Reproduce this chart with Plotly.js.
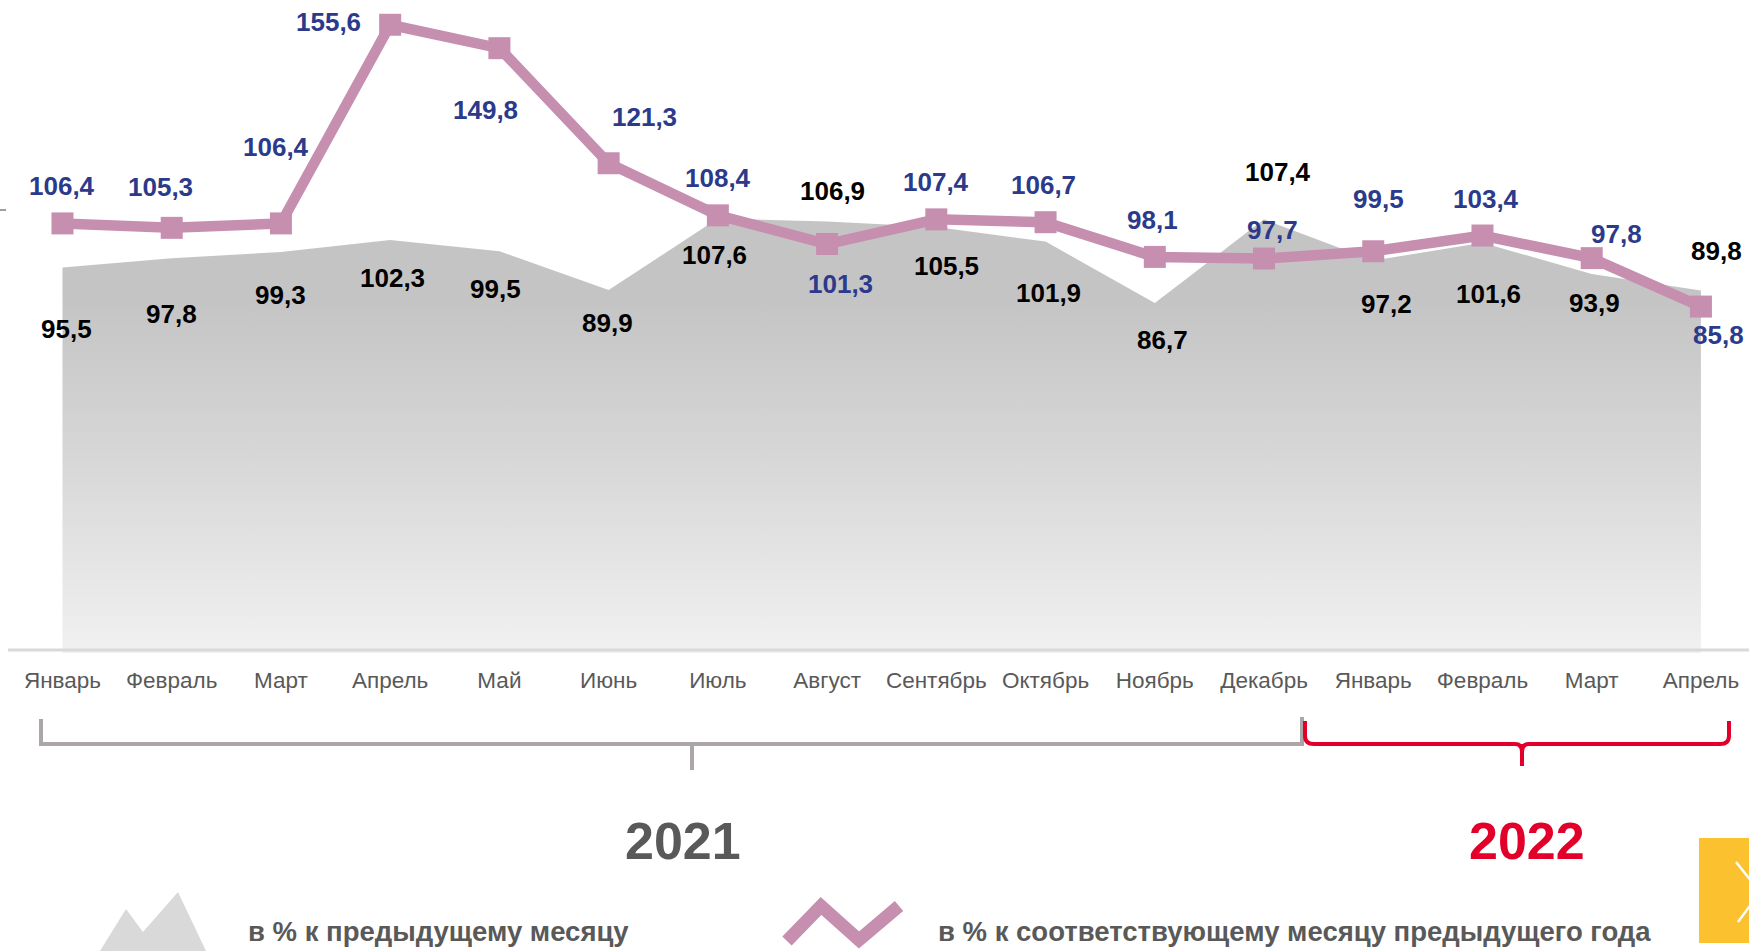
<!DOCTYPE html>
<html>
<head>
<meta charset="utf-8">
<script src="https://cdn.plot.ly/plotly-3.0.1.min.js"></script>
<style>html,body{margin:0;padding:0;background:#fff;}#chart{width:1749px;height:951px;}</style>
</head>
<body>
<div id="chart"></div>
<script>
// ---- data ----
const months = ['Январь','Февраль','Март','Апрель','Май','Июнь','Июль','Август','Сентябрь','Октябрь','Ноябрь','Декабрь','Январь','Февраль','Март','Апрель'];
const momValues = [95.5,97.8,99.3,102.3,99.5,89.9,107.6,106.9,105.5,101.9,86.7,107.4,97.2,101.6,93.9,89.8];
const yoyValues = [106.4,105.3,106.4,155.6,149.8,121.3,108.4,101.3,107.4,106.7,98.1,97.7,99.5,103.4,97.8,85.8];
const years = ['2021','2022'];
const legendNames = ['в % к предыдущему месяцу','в % к соответствующему месяцу предыдущего года'];

// ---- label offsets (pixels, screen: dx right, dy down) ----
const yoyLabelOffsets = [[0,-37],[-11,-41],[-5,-76],[-62,-3],[-14,62],[36,-46],[0,-37],[13,40],[0,-37],[-2,-37],[-2,-37],[8,-29],[5,-52],[4,-37],[25,-24],[18,28]];
const momLabelOffsets = [[4,62],[0,56],[0,43],[2,38],[-4,38],[-1,33],[-3,36],[5,-30],[10,39],[3,51],[8,37],[14,-47],[13,43],[6,51],[3,29],[16,-39]];

const W = 1749, H = 951, PLOT_BOTTOM = 653, PLOT_TOP = 7;
const PH = PLOT_BOTTOM - PLOT_TOP;
const px = x => x / W;
const py = y => (PLOT_BOTTOM - y) / PH;
const P = (x, y) => px(x).toFixed(5) + ',' + py(y).toFixed(5);

const FONT = 'Liberation Sans, Arial, sans-serif';
const PINK = '#c68fb0';
const NAVY = '#2b3a8a';
const fmt = v => v.toFixed(1).replace('.', ',');
const xs = months.map((_, i) => i);

const traces = [
  {
    x: xs, y: momValues, type: 'scatter', mode: 'lines', fill: 'tozeroy',
    line: {width: 0, color: 'rgba(0,0,0,0)'},
    fillgradient: {type: 'vertical', start: 0, stop: 88, colorscale: [[0, '#f1f1f1'], [0.5, '#d9d9d9'], [1, '#c4c4c4']]},
    hoverinfo: 'skip', showlegend: false
  },
  {
    x: xs, y: yoyValues, type: 'scatter', mode: 'lines+markers',
    line: {width: 10.5, color: PINK},
    marker: {symbol: 'square', size: 22, color: PINK},
    hoverinfo: 'skip', showlegend: false
  }
];

const annotations = [];
yoyValues.forEach((v, i) => annotations.push({
  x: i, y: v, xref: 'x', yref: 'y', text: fmt(v), showarrow: false,
  xanchor: 'center', yanchor: 'middle',
  xshift: yoyLabelOffsets[i][0], yshift: -yoyLabelOffsets[i][1],
  font: {family: FONT, size: 26, color: NAVY, weight: 'bold'}
}));
momValues.forEach((v, i) => annotations.push({
  x: i, y: v, xref: 'x', yref: 'y', text: fmt(v), showarrow: false,
  xanchor: 'center', yanchor: 'middle',
  xshift: momLabelOffsets[i][0], yshift: -momLabelOffsets[i][1],
  font: {family: FONT, size: 26, color: '#000', weight: 'bold'}
}));
annotations.push(
  {xref: 'paper', yref: 'paper', x: px(683), y: py(841), xanchor: 'center', yanchor: 'middle', text: '<b>' + years[0] + '</b>', showarrow: false,
   font: {family: FONT, size: 52, color: '#595959'}},
  {xref: 'paper', yref: 'paper', x: px(1527), y: py(841), xanchor: 'center', yanchor: 'middle', text: '<b>' + years[1] + '</b>', showarrow: false,
   font: {family: FONT, size: 52, color: '#e2002a'}},
  {xref: 'paper', yref: 'paper', x: px(246), y: py(931), xanchor: 'left', yanchor: 'middle', text: '<b>' + legendNames[0] + '</b>', showarrow: false,
   font: {family: FONT, size: 27.5, color: '#595959'}},
  {xref: 'paper', yref: 'paper', x: px(936), y: py(931), xanchor: 'left', yanchor: 'middle', text: '<b>' + legendNames[1] + '</b>', showarrow: false,
   font: {family: FONT, size: 27.5, color: '#595959'}}
);

const GRAYB = '#aba7a7', RED = '#e2002a';
const shapes = [
  // base axis line
  {type: 'line', xref: 'paper', yref: 'paper', x0: px(8), x1: 1, y0: py(650), y1: py(650), line: {color: '#d9d9d9', width: 3}, layer: 'above'},
  // small left tick
  {type: 'line', xref: 'paper', yref: 'paper', x0: 0, x1: px(6), y0: py(210), y1: py(210), line: {color: '#7f7f7f', width: 1.5}},
  // 2021 bracket
  {type: 'path', xref: 'paper', yref: 'paper', path: 'M' + P(41, 719) + ' L' + P(41, 744) + ' L' + P(1302, 744) + ' L' + P(1302, 717), line: {color: GRAYB, width: 4}},
  {type: 'line', xref: 'paper', yref: 'paper', x0: px(692), x1: px(692), y0: py(744), y1: py(770), line: {color: GRAYB, width: 4}},
  // 2022 bracket
  {type: 'path', xref: 'paper', yref: 'paper',
   path: 'M' + P(1305, 721) + ' L' + P(1305, 736) + ' Q' + P(1305, 744) + ' ' + P(1314, 744) + ' L' + P(1515, 744) + ' Q' + P(1522, 744) + ' ' + P(1522, 752) +
         ' Q' + P(1522, 744) + ' ' + P(1529, 744) + ' L' + P(1720, 744) + ' Q' + P(1729, 744) + ' ' + P(1729, 736) + ' L' + P(1729, 721),
   line: {color: RED, width: 4}},
  {type: 'line', xref: 'paper', yref: 'paper', x0: px(1522), x1: px(1522), y0: py(744), y1: py(766), line: {color: RED, width: 4}},
  // legend icons
  {type: 'path', xref: 'paper', yref: 'paper', path: 'M' + P(100, 951) + ' L' + P(126, 909) + ' L' + P(143, 932) + ' L' + P(178, 892) + ' L' + P(206, 951) + ' Z',
   fillcolor: '#d9d9d9', line: {width: 0}},
  {type: 'path', xref: 'paper', yref: 'paper', path: 'M' + P(787, 941) + ' L' + P(821, 906) + ' L' + P(859, 940) + ' L' + P(899, 906),
   line: {color: PINK, width: 13}},
  // yellow nav box
  {type: 'rect', xref: 'paper', yref: 'paper', x0: px(1699), x1: 1, y0: py(838), y1: py(943), fillcolor: '#fbc12e', line: {width: 0}},
  {type: 'path', xref: 'paper', yref: 'paper', path: 'M' + P(1736, 862) + ' L' + P(1760, 892) + ' L' + P(1738, 922), line: {color: '#ffffff', width: 2.5}}
];

const layout = {
  width: W, height: H,
  margin: {l: 0, r: 0, t: PLOT_TOP, b: H - PLOT_BOTTOM, pad: 0},
  paper_bgcolor: '#ffffff', plot_bgcolor: '#ffffff',
  showlegend: false,
  xaxis: {
    range: [-0.572, 15.44], tickmode: 'array', tickvals: xs, ticktext: months,
    showgrid: false, zeroline: false, showline: false, ticks: '', ticklabelstandoff: 11,
    tickfont: {family: FONT, size: 22.5, color: '#595959'}, fixedrange: true
  },
  yaxis: {range: [0, 160], visible: false, showgrid: false, zeroline: false, fixedrange: true},
  annotations: annotations,
  shapes: shapes
};

Plotly.newPlot('chart', traces, layout, {displayModeBar: false, staticPlot: true});
</script>
</body>
</html>
